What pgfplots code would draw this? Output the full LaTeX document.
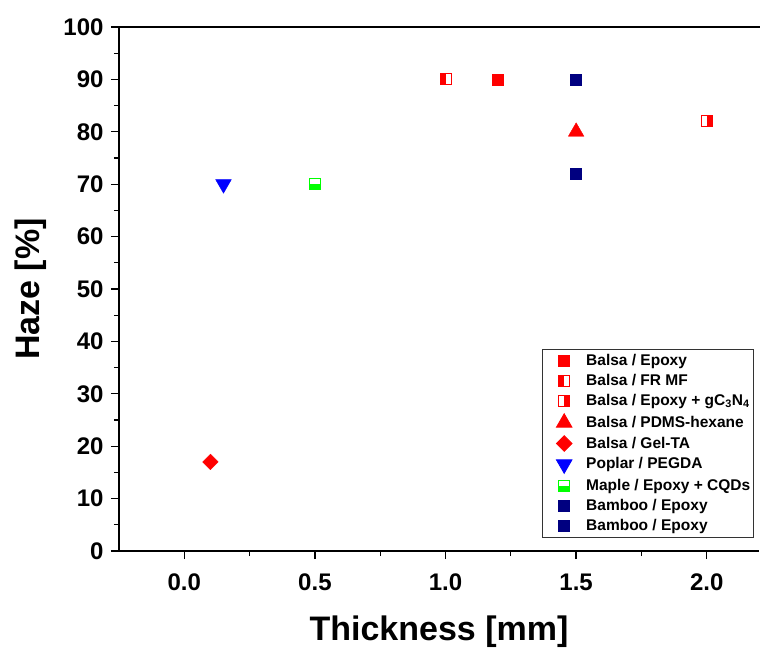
\documentclass[border=0pt]{standalone}
\usepackage{pgfplots}
\pgfplotsset{compat=1.18}
\usepackage{fontspec}
\setmainfont{Liberation Sans}
\definecolor{cred}{RGB}{255,0,0}
\definecolor{cblue}{RGB}{0,0,255}
\definecolor{cgreen}{RGB}{0,255,0}
\definecolor{cnavy}{RGB}{0,0,128}
% square: left half filled
\pgfdeclareplotmark{sqL}{%
  \pgfsetfillcolor{white}%
  \pgfpathrectangle{\pgfpoint{-\pgfplotmarksize}{-\pgfplotmarksize}}{\pgfpoint{2\pgfplotmarksize}{2\pgfplotmarksize}}%
  \pgfusepathqfillstroke
  \pgfsetfillcolor{cred}%
  \pgfpathrectangle{\pgfpoint{-\pgfplotmarksize}{-\pgfplotmarksize}}{\pgfpoint{\pgfplotmarksize}{2\pgfplotmarksize}}%
  \pgfusepathqfill}
% square: right half filled
\pgfdeclareplotmark{sqR}{%
  \pgfsetfillcolor{white}%
  \pgfpathrectangle{\pgfpoint{-\pgfplotmarksize}{-\pgfplotmarksize}}{\pgfpoint{2\pgfplotmarksize}{2\pgfplotmarksize}}%
  \pgfusepathqfillstroke
  \pgfsetfillcolor{cred}%
  \pgfpathrectangle{\pgfpoint{0pt}{-\pgfplotmarksize}}{\pgfpoint{\pgfplotmarksize}{2\pgfplotmarksize}}%
  \pgfusepathqfill}
% square: bottom half filled
\pgfdeclareplotmark{sqB}{%
  \pgfsetfillcolor{white}%
  \pgfpathrectangle{\pgfpoint{-\pgfplotmarksize}{-\pgfplotmarksize}}{\pgfpoint{2\pgfplotmarksize}{2\pgfplotmarksize}}%
  \pgfusepathqfillstroke
  \pgfsetfillcolor{cgreen}%
  \pgfpathrectangle{\pgfpoint{-\pgfplotmarksize}{-\pgfplotmarksize}}{\pgfpoint{2\pgfplotmarksize}{\pgfplotmarksize}}%
  \pgfusepathqfill}
\pgfplotsset{
  pts/.style={only marks,
    legend image code/.code={\path[draw=none, fill=none] (0pt,-6pt) rectangle (30pt,6pt); \draw[##1] plot coordinates {(20pt,0pt)};}},
}
\begin{document}
\begin{tikzpicture}
\begin{axis}[
  at={(0pt,0pt)}, anchor=south west,
  scale only axis, width=640pt, height=524pt,
  xmin=-0.25, xmax=2.2, ymin=0, ymax=100,
  axis x line*=bottom, axis y line*=left,
  axis line style={-, line width=1.5pt},
  tick align=outside,
  major tick length=8pt, minor tick length=5pt,
  every tick/.style={black, line width=1.3pt},
  xtick={0,0.5,1,1.5,2}, minor x tick num=1,
  ytick={0,10,...,100}, minor y tick num=1,
  /pgf/number format/assume math mode=true,
  x tick label style={/pgf/number format/fixed, /pgf/number format/fixed zerofill, /pgf/number format/precision=1, yshift=-11pt},
  ticklabel style={font=\fontsize{24}{26}\selectfont\bfseries},
  y tick label style={xshift=-4pt},
  xlabel={Thickness [mm]}, ylabel={Haze [\%]},
  label style={font=\fontsize{34}{38}\selectfont\bfseries},
  xlabel style={yshift=-18pt},
  ylabel style={yshift=10pt},
  clip=false,
  legend style={at={(rel axis cs:0.992,0.025)}, anchor=south east,
    draw={black!80}, line width=1.2pt, font=\fontsize{15.5}{17}\selectfont\bfseries,
    row sep=6pt, inner xsep=2pt, inner ysep=4pt,
    nodes={inner xsep=1pt, inner ysep=0pt, text height=11.5pt, text depth=2.5pt},
    /tikz/every odd column/.append style={column sep=11pt}},
  legend cell align=left,
  legend image post style={line width=0.8pt},
]
\addplot[pts, mark=square*, mark size=5.5pt, color=cred] coordinates {(1.2,90)};
\addlegendentry{Balsa / Epoxy}
\addplot[pts, mark=sqL, mark size=5.5pt, draw=cred, line width=1pt] coordinates {(1.0,90)};
\addlegendentry{Balsa / FR MF}
\addplot[pts, mark=sqR, mark size=5.5pt, draw=cred, line width=1pt] coordinates {(2.0,82)};
\addlegendentry{Balsa / Epoxy + gC\textsubscript{3}N\textsubscript{4}}
\addplot[pts, mark=triangle*, mark size=9pt, color=cred] coordinates {(1.5,80)};
\addlegendentry{Balsa / PDMS-hexane}
\addplot[pts, mark=square*, mark options={rotate=45}, mark size=5.5pt, color=cred] coordinates {(0.1,17)};
\addlegendentry{Balsa / Gel-TA}
\addplot[pts, mark=triangle*, mark options={rotate=180}, mark size=9pt, color=cblue] coordinates {(0.15,70)};
\addlegendentry{Poplar / PEGDA}
\addplot[pts, mark=sqB, mark size=5.5pt, draw=cgreen, line width=1pt] coordinates {(0.5,70)};
\addlegendentry{Maple / Epoxy + CQDs}
\addplot[pts, mark=square*, mark size=5.5pt, color=cnavy] coordinates {(1.5,90)};
\addlegendentry{Bamboo / Epoxy}
\addplot[pts, mark=square*, mark size=5.5pt, color=cnavy] coordinates {(1.5,72)};
\addlegendentry{Bamboo / Epoxy}
\draw[line width=1.5pt] (rel axis cs:0,1) -- (rel axis cs:1.01,1);
\end{axis}
\pgfresetboundingbox
\useasboundingbox (-119pt,-97pt) rectangle (641pt,551pt);
\end{tikzpicture}
\end{document}
